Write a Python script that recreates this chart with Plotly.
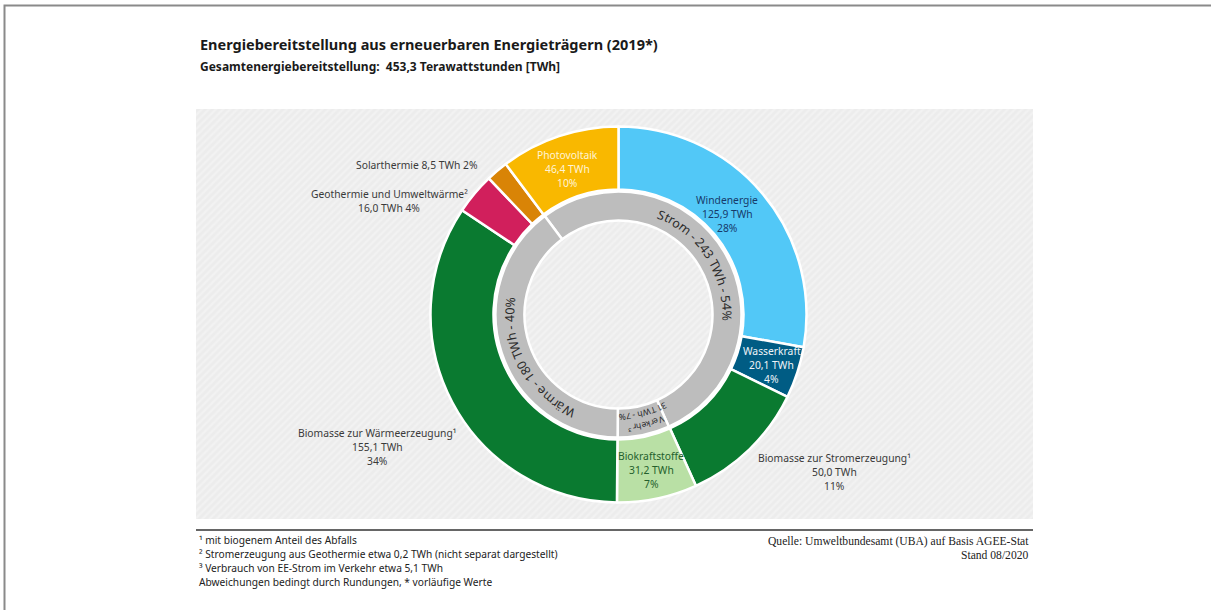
import math
import plotly.graph_objects as go

W, H = 1211, 610
FONT = "Noto Sans"
SERIF = "Liberation Serif"

# ---------------- data ----------------
outer_labels = ["Windenergie", "Wasserkraft", "Biomasse zur Stromerzeugung¹", "Biokraftstoffe",
                "Biomasse zur Wärmeerzeugung¹", "Geothermie und Umweltwärme²", "Solarthermie", "Photovoltaik"]
outer_values = [125.9, 20.1, 50.0, 31.2, 155.1, 16.0, 8.5, 46.4]
outer_shares = [28, 4, 11, 7, 34, 4, 2, 10]

inner_labels = ["Strom", "Verkehr³", "Wärme"]
inner_values = [243, 31, 180]
inner_shares = [54, 7, 40]

title = "Energiebereitstellung aus erneuerbaren Energieträgern (2019*)"
subtitle = "Gesamtenergiebereitstellung:  453,3 Terawattstunden [TWh]"
notes_left = ["¹ mit biogenem Anteil des Abfalls",
              "² Stromerzeugung aus Geothermie etwa 0,2 TWh (nicht separat dargestellt)",
              "³ Verbrauch von EE-Strom im Verkehr etwa 5,1 TWh",
              "Abweichungen bedingt durch Rundungen, * vorläufige Werte"]
notes_right = ["Quelle: Umweltbundesamt (UBA) auf Basis AGEE-Stat", "Stand 08/2020"]

# ---------------- styling ----------------
outer_colors = ["#52c8f7", "#005c84", "#0a7a30", "#b9e0a5", "#0a7a30", "#d11f5c", "#d98406", "#f9b800"]
inner_color = "#bdbdbd"

CX, CY = 618.5, 314.5          # pie centre in pixels
R_OUT, R_OUT_IN = 188, 125
R_IN, R_IN_IN = 123, 94


def dom(r):
    return dict(x=[(CX - r) / W, (CX + r) / W],
                y=[(H - CY - r) / H, (H - CY + r) / H])


def px(x, y):
    return x / W, 1 - y / H


def de(v):
    return f"{v:.1f}".replace(".", ",")


fig = go.Figure()

# hatched panel background
fig.add_trace(go.Scatter(
    x=[196, 1033, 1033, 196, 196], y=[109, 109, 519, 519, 109],
    fill="toself", mode="none", fillcolor="#efefef",
    fillpattern=dict(shape="/", bgcolor="#ececec", fgcolor="#f8f8f8", size=5, solidity=0.45),
    hoverinfo="skip", showlegend=False))

# outer ring
fig.add_trace(go.Pie(
    labels=outer_labels, values=outer_values, sort=False, direction="clockwise", rotation=0,
    hole=R_OUT_IN / R_OUT, domain=dom(R_OUT), textinfo="none",
    marker=dict(colors=outer_colors, line=dict(color="white", width=2.5)),
    showlegend=False, hoverinfo="label+value"))

# inner ring (starts where Photovoltaik starts)
rot = 360 * (1 - outer_values[-1] / sum(outer_values))
fig.add_trace(go.Pie(
    labels=inner_labels, values=inner_values, sort=False, direction="clockwise", rotation=rot,
    hole=R_IN_IN / R_IN, domain=dom(R_IN), textinfo="none",
    marker=dict(colors=[inner_color] * 3, line=dict(color="white", width=2.5)),
    showlegend=False, hoverinfo="label+value"))

ann = []

# ---------------- outer labels ----------------
LBL_SIZE = 10.3
LINE = 14
label_pos = {
    "Windenergie": (727, 214, "#173a6a"),
    "Wasserkraft": (772, 365, "#eef4f8"),
    "Biomasse zur Stromerzeugung¹": (834, 472, "#3a3a3a"),
    "Biokraftstoffe": (651, 470, "#245f2c"),
    "Biomasse zur Wärmeerzeugung¹": (377, 447, "#3a3a3a"),
    "Geothermie und Umweltwärme²": (389, 201, "#3a3a3a"),
    "Solarthermie": (417, 165, "#3a3a3a"),
    "Photovoltaik": (567, 169, "#fff4d6"),
}
for lab, v, s in zip(outer_labels, outer_values, outer_shares):
    x, y, col = label_pos[lab]
    if lab == "Solarthermie":
        lines = [f"{lab} {de(v)} TWh {s}%"]
    elif lab.startswith("Geothermie"):
        lines = [lab, f"{de(v)} TWh {s}%"]
    else:
        lines = [lab, f"{de(v)} TWh", f"{s}%"]
    y0 = y - (len(lines) - 1) * LINE / 2
    for i, t in enumerate(lines):
        xx, yy = px(x, y0 + i * LINE)
        ann.append(dict(x=xx, y=yy, xref="paper", yref="paper", text=t, showarrow=False,
                        xanchor="center", yanchor="middle", align="center",
                        font=dict(family=FONT, size=LBL_SIZE, color=col)))

# ---------------- curved inner ring text ----------------
CW = {" ": .26, "-": .32, "%": .82, "³": .36, "S": .55, "t": .35, "r": .41, "o": .60, "m": .93,
      "T": .55, "W": .92, "h": .61, "ä": .56, "a": .56, "e": .56, "V": .60, "k": .52}


def cw(c):
    if c.isdigit():
        return .57
    return CW.get(c, .56)


def arc_text(text, center_deg, radius, size, color, spacing=1.03):
    widths = [cw(c) * size * spacing for c in text]
    total = sum(widths)
    ang = math.radians(center_deg) - total / 2 / radius
    out = []
    for c, w in zip(text, widths):
        a = ang + w / 2 / radius
        ang += w / radius
        if c == " ":
            continue
        x = CX + radius * math.sin(a)
        y = CY - radius * math.cos(a)
        deg = math.degrees(a) % 360
        if deg > 180:
            deg -= 360
        xx, yy = px(x, y)
        out.append(dict(x=xx, y=yy, xref="paper", yref="paper", text=c, showarrow=False,
                        textangle=deg, xanchor="center", yanchor="middle", borderpad=0,
                        font=dict(family=FONT, size=size, color=color)))
    return out


tot_in = sum(inner_values)
start = rot
mids = []
for v in inner_values:
    span = 360 * v / tot_in
    mids.append(start + span / 2)
    start += span

r_mid = (R_IN + R_IN_IN) / 2
ann += arc_text(f"{inner_labels[0]} - {inner_values[0]} TWh - {inner_shares[0]}%", mids[0] - 2, r_mid, 12.5, "#2b2b2b")
ann += arc_text(f"{inner_labels[2]} - {inner_values[2]} TWh - {inner_shares[2]}%", mids[2] - 10, r_mid + 0.5, 12.5, "#2b2b2b")
ann += arc_text(inner_labels[1], mids[1] - 2, 114, 8.5, "#2b2b2b")
ann += arc_text(f"{inner_values[1]} TWh - {inner_shares[1]}%", mids[1] - 2, 102.5, 8.5, "#2b2b2b")

# ---------------- titles & footnotes ----------------
ann.append(dict(x=198 / W, y=px(0, 44)[1], xref="paper", yref="paper", text=f"<b>{title}</b>",
                showarrow=False, xanchor="left", yanchor="middle",
                font=dict(family=FONT, size=14.5, color="#1a1a1a")))
ann.append(dict(x=198 / W, y=px(0, 67)[1], xref="paper", yref="paper", text=f"<b>{subtitle}</b>",
                showarrow=False, xanchor="left", yanchor="middle",
                font=dict(family=FONT, size=12, color="#1a1a1a")))
for i, t in enumerate(notes_left):
    ann.append(dict(x=197 / W, y=px(0, 540 + 14 * i)[1], xref="paper", yref="paper", text=t,
                    showarrow=False, xanchor="left", yanchor="middle",
                    font=dict(family=FONT, size=10.2, color="#222")))
for i, t in enumerate(notes_right):
    ann.append(dict(x=1031 / W, y=px(0, 541 + 14 * i)[1], xref="paper", yref="paper", text=t,
                    showarrow=False, xanchor="right", yanchor="middle",
                    font=dict(family=SERIF, size=11.6, color="#222")))

shapes = [
    dict(type="rect", xref="paper", yref="paper", x0=4.5 / W, x1=1.02, y0=-0.02, y1=1 - 5.5 / H,
         line=dict(color="#8a8a8a", width=2), fillcolor="rgba(0,0,0,0)"),
    dict(type="line", xref="paper", yref="paper", x0=196 / W, x1=1033 / W, y0=1 - 530 / H, y1=1 - 530 / H,
         line=dict(color="#333333", width=1.3)),
]

fig.update_layout(
    width=W, height=H, margin=dict(l=0, r=0, t=0, b=0),
    paper_bgcolor="white", plot_bgcolor="white",
    xaxis=dict(range=[0, W], visible=False, fixedrange=True, domain=[0, 1]),
    yaxis=dict(range=[H, 0], visible=False, fixedrange=True, domain=[0, 1]),
    annotations=ann, shapes=shapes, showlegend=False,
)

fig.write_html("out.html", config={"displayModeBar": False},
               post_script="document.body.style.margin='0';")
